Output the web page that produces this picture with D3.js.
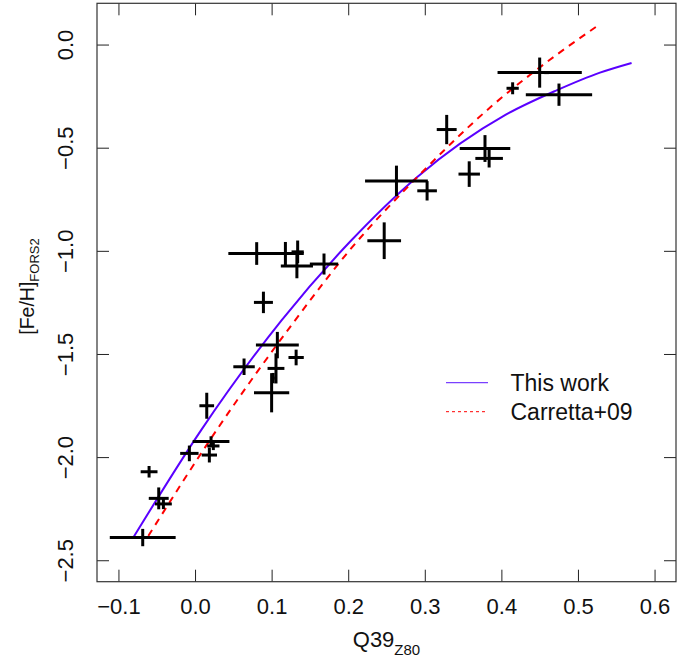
<!DOCTYPE html>
<html>
<head>
<meta charset="utf-8">
<script src="https://cdn.jsdelivr.net/npm/d3@7"></script>
<style>
  html, body { margin: 0; padding: 0; background: #fff; }
  svg { display: block; font-family: "Liberation Sans", Arial, Helvetica, sans-serif; }
</style>
</head>
<body>
<svg id="chart" width="698" height="659"></svg>
<script>
// ---- data ----
const q39      = [-0.0683,-0.060,-0.0474,-0.0413,-0.0074,0.0209,0.0239,0.0187,0.0153,0.064,0.1075,0.132,0.1057,0.102,0.100,0.0805,0.118,0.134,0.133,0.1684,0.0893,0.263,0.303,0.247,0.3286,0.3786,0.384,0.358,0.450,0.459,0.4147,0.4752];
const feh      = [-2.390,-2.071,-2.200,-2.227,-1.982,-1.924,-1.946,-1.990,-1.751,-1.562,-1.457,-1.517,-1.570,-1.617,-1.688,-1.013,-1.013,-1.005,-1.073,-1.064,-1.250,-0.661,-0.709,-0.951,-0.412,-0.504,-0.552,-0.628,-0.136,-0.136,-0.212,-0.243];
const q39Err   = [0.043,0.011,0.013,0.011,0.012,0.024,0.008,0.010,0.0096,0.014,0.028,0.010,0.011,0.002,0.023,0.037,0.024,0.008,0.021,0.0185,0.0124,0.041,0.0128,0.022,0.013,0.033,0.018,0.014,0.055,0.003,0.008,0.0433];
const fehErr   = [0.042,0.028,0.053,0.025,0.038,0.025,0.020,0.036,0.063,0.040,0.064,0.038,0.073,0.025,0.095,0.055,0.056,0.055,0.060,0.051,0.052,0.074,0.047,0.089,0.071,0.065,0.044,0.062,0.073,0.006,0.029,0.054];

// calibration curves
const thisWorkQ   = [-0.0806, 0.008, 0.1132, 0.2023, 0.2894, 0.4047, 0.472, 0.5287, 0.570];
const thisWorkFeH = [-2.39, -1.869, -1.336, -0.956, -0.644, -0.342, -0.222, -0.136, -0.089];
const carrettaQ   = [-0.061, 0.028, 0.129, 0.2023, 0.2894, 0.389, 0.472, 0.528];
const carrettaFeH = [-2.382, -1.870, -1.345, -0.995, -0.646, -0.293, -0.050, 0.097];

const xTicks = [-0.1, 0.0, 0.1, 0.2, 0.3, 0.4, 0.5, 0.6];
const yTicks = [-2.5, -2.0, -1.5, -1.0, -0.5, 0.0];
const legendLabels = ["This work", "Carretta+09"];

// ---- layout ----
const L = 97, R = 676, T = 3.3, B = 581.7;
const FS = 22;
const svg = d3.select("#chart");
const x = d3.scaleLinear().domain([-0.128, 0.628]).range([L, R]);
const y = d3.scaleLinear().domain([-2.604, 0.2]).range([B, T]);
const fmt = d3.format(".1f");
const tick = 12;

// axes (ticks inward on all four sides)
const gx = svg.append("g").attr("transform", `translate(0,${B})`)
  .call(d3.axisBottom(x).tickValues(xTicks).tickFormat(fmt).tickSizeInner(-tick).tickSizeOuter(0).tickPadding(17));
const gy = svg.append("g").attr("transform", `translate(${L},0)`)
  .call(d3.axisLeft(y).tickValues(yTicks).tickFormat(fmt).tickSizeInner(-tick).tickSizeOuter(0));
const gt = svg.append("g").attr("transform", `translate(0,${T})`)
  .call(d3.axisTop(x).tickValues(xTicks).tickFormat("").tickSizeInner(-tick).tickSizeOuter(0));
const gr = svg.append("g").attr("transform", `translate(${R},0)`)
  .call(d3.axisRight(y).tickValues(yTicks).tickFormat("").tickSizeInner(-tick).tickSizeOuter(0));
[gx, gy, gt, gr].forEach(g => {
  g.select(".domain").remove();
  g.selectAll("line").attr("stroke", "#222").attr("stroke-width", 1);
  g.selectAll("text").attr("font-family", null).attr("font-size", FS).attr("fill", "#111");
});
gy.selectAll(".tick text")
  .attr("x", 0).attr("dy", 0).attr("text-anchor", "middle")
  .attr("transform", "translate(-24,0) rotate(-90)");

// box
svg.append("rect").attr("x", L).attr("y", T).attr("width", R - L).attr("height", B - T)
  .attr("fill", "none").attr("stroke", "#333").attr("stroke-width", 1.2);

// axis titles
const xt = svg.append("text").attr("x", (L + R) / 2).attr("y", 646.5)
  .attr("text-anchor", "middle").attr("font-size", 22).attr("fill", "#111");
xt.append("tspan").text("Q39");
xt.append("tspan").attr("dy", 8).attr("font-size", 15).text("Z80");

const yt = svg.append("text").attr("transform", `translate(34,${(T + B) / 2 - 6}) rotate(-90)`)
  .attr("text-anchor", "middle").attr("font-size", 19.5).attr("fill", "#111");
yt.append("tspan").text("[Fe/H]");
yt.append("tspan").attr("dy", 5).attr("font-size", 13).text("FORS2");

// curves
const line = d3.line().x(d => x(d[0])).y(d => y(d[1])).curve(d3.curveMonotoneX);
svg.append("path").datum(thisWorkQ.map((q, i) => [q, thisWorkFeH[i]]))
  .attr("d", line).attr("fill", "none").attr("stroke", "#5a00ff").attr("stroke-width", 2);
svg.append("path").datum(carrettaQ.map((q, i) => [q, carrettaFeH[i]]))
  .attr("d", line).attr("fill", "none").attr("stroke", "#ff0000").attr("stroke-width", 2)
  .attr("stroke-dasharray", "7,6");

// error-bar crosses
const pts = q39.map((q, i) => ({ q, f: feh[i], dq: q39Err[i], df: fehErr[i] }));
const gp = svg.append("g").attr("stroke", "#000").attr("stroke-width", 3).attr("stroke-linecap", "butt");
gp.selectAll("line.h").data(pts).join("line").attr("class", "h")
  .attr("x1", d => x(d.q - d.dq)).attr("x2", d => x(d.q + d.dq))
  .attr("y1", d => y(d.f)).attr("y2", d => y(d.f));
gp.selectAll("line.v").data(pts).join("line").attr("class", "v")
  .attr("x1", d => x(d.q)).attr("x2", d => x(d.q))
  .attr("y1", d => y(d.f - d.df)).attr("y2", d => y(d.f + d.df));

// legend
const lg = svg.append("g");
const lgY = [382.7, 411.7];
lg.append("line").attr("x1", 446).attr("x2", 488).attr("y1", lgY[0]).attr("y2", lgY[0])
  .attr("stroke", "#7a40ff").attr("stroke-width", 1.2);
lg.append("line").attr("x1", 446).attr("x2", 488).attr("y1", lgY[1]).attr("y2", lgY[1])
  .attr("stroke", "#ff0000").attr("stroke-width", 1).attr("stroke-dasharray", "3,3");
lg.selectAll("text").data(legendLabels).join("text")
  .attr("x", 510.5).attr("y", (d, i) => lgY[i]).attr("dy", "0.36em")
  .attr("font-size", 23).attr("fill", "#111").text(d => d);
</script>
</body>
</html>
